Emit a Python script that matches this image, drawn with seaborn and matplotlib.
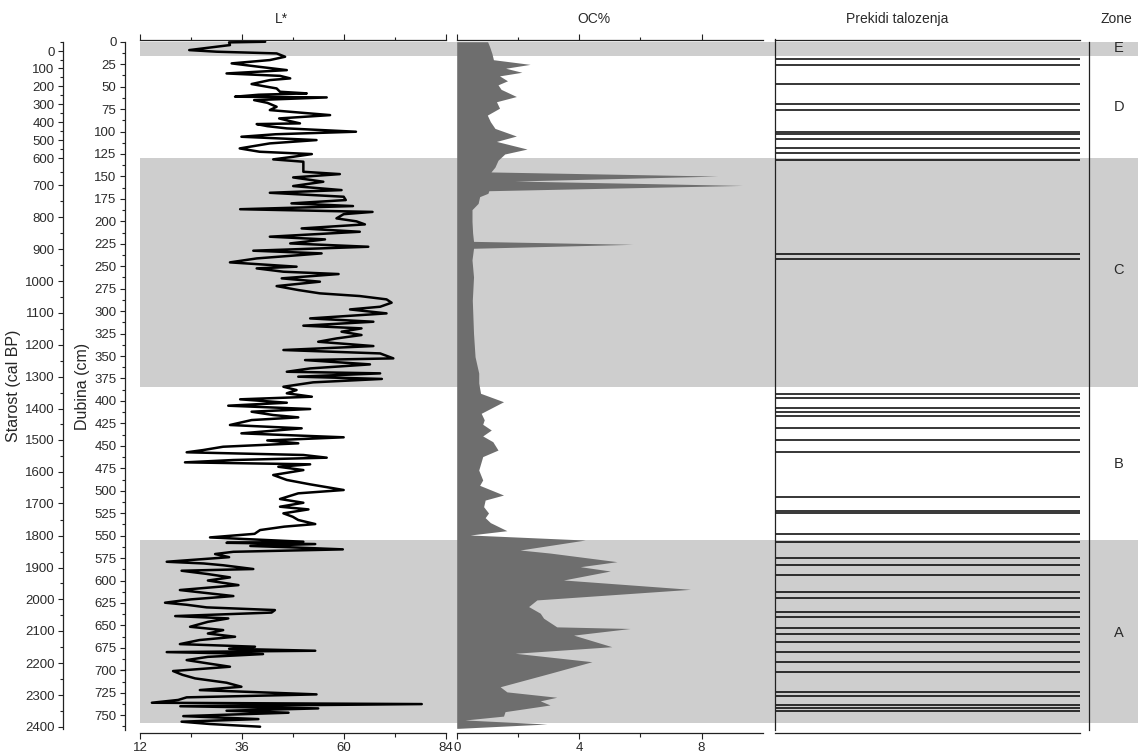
import numpy as np
import seaborn as sns
import matplotlib.pyplot as plt
from matplotlib.ticker import FixedLocator, NullFormatter

# ---- data -----------------------------------------------------------------
# L* colour record (depth in cm, value)
lstar_depth = [0, 0.7, 3.7, 9.3, 11.1, 13, 16.7, 20.4, 24.1, 27.8, 31.6, 35.3, 38, 40.8, 42.7,
               47.1, 52, 55.7, 57.5, 59, 61.2, 62, 65, 68, 72.4, 76.1, 81.7, 85.4, 88, 90.9,
               91.7, 94, 96.5, 100.2, 103, 105.8, 109.5, 113.2, 118.8, 122.5, 125.1, 128.1,
               131, 133.6, 144.8, 147.4, 151.1, 155.9, 160.7, 165.2, 168.2, 172.6, 176.3, 180,
               183, 186.5, 189.5, 192, 196.7, 200, 203.4, 207.9, 211.6, 217.1, 220.1, 224.6,
               228.3, 232.7, 235.7, 241.3, 245.7, 250.5, 252.4, 256.1, 258.7, 263.5, 267.2,
               272.1, 276.5, 280.2, 283.2, 286.9, 290.6, 295.1, 298.1, 302.5, 308.1, 311.8,
               316.2, 319.2, 322.9, 326.6, 330.4, 334.1, 338.9, 343.3, 347.1, 352.6, 354.5,
               359.3, 363.8, 367.5, 369.3, 373.0, 375.5, 379.3, 384.2, 387.9, 391.5, 395.3,
               398.2, 402, 405.3, 409, 412, 415.7, 418.3, 421.3, 426.8, 430.5, 436.1, 440.5,
               444, 447.2, 451, 454.7, 457.2, 460.2, 463.2, 465.8, 468.4, 470.6, 473.3, 477,
               482.5, 488, 492.9, 499.2, 502.9, 509.2, 513.4, 517.8, 520.8, 525.2, 529, 532.6,
               537.1, 540, 543.8, 548, 552, 554.5, 556.8, 558, 559.4, 561.5, 563, 565.3, 568,
               570.5, 574, 579.1, 581, 583, 587.2, 589.1, 592.8, 596.5, 600, 605.1, 610.6,
               617.3, 621, 624.7, 627, 629.9, 632.9, 635.7, 639.6, 642.2, 646, 651.5, 655.2,
               659, 662.6, 666.3, 670.8, 673.7, 676, 678.2, 679.7, 681.9, 685, 688.6, 692.3,
               696, 700.8, 705, 709, 713.8, 718.3, 722, 726.8, 730.1, 733, 736.1, 737.6, 740,
               742.4, 745, 747.2, 751, 754.3, 757.2, 759.8, 762.8]
lstar_value = [41.5, 33, 33.2, 23.6, 30.1, 44.2, 46.2, 42.6, 33.6, 39.9, 46.6, 32.4, 45, 47.4, 42.6,
               38.3, 44.2, 45, 51.3, 40, 34.4, 56, 38.9, 42, 44.2, 42.6, 56.8, 44.8, 47, 49.7,
               39.5, 42, 46.6, 62.9, 44, 35.9, 53.6, 42.6, 35.5, 40.2, 52.5, 48.1,
               43.4, 50.5, 50.5, 59.1, 48.1, 55.2, 48.1, 59.5, 42.6, 60, 60.5, 47.7,
               62.2, 35.6, 66.8, 60, 58.3, 63, 65.0, 50.1, 63.8, 42.6, 55.6, 47.4,
               65.8, 38.7, 54.8, 39.5, 33.2, 48.9, 39.5, 45.8, 58.8, 45.4, 54.4,
               44.2, 49.3, 54.4, 63.8, 70.1, 71.3, 68.6, 61.5, 70.1, 52.1, 67.0,
               50.5, 64.2, 59.5, 64.2, 58.3, 54.0, 67.0, 45.8, 68.6, 71.7, 50.9,
               66.2, 52.1, 46.6, 68.6, 49.3, 69.0, 52.8, 45.8, 48.9, 46.6, 52.5,
               35.6, 46.6, 32.8, 52.1, 38.3, 43.4, 49.3, 38.3, 33.2, 50.1, 35.9, 60.0,
               42, 49.3, 31.6, 26.9, 23.0, 50.5, 56, 34, 22.6, 52.1, 44.6, 50.5,
               43.4, 46.6, 52.1, 60.0, 49.3, 45.0, 50.5, 45.0, 51.7, 45.8, 48, 49.3,
               53.3, 46, 40.3, 39, 28.5, 40, 50.5, 32.4, 53.3, 38, 47.4, 59.8, 34.0,
               29.7, 33, 18.3, 27, 31.6, 38.7, 21.8, 28, 33.2, 28, 35.2, 21.4,
               34.0, 24, 17.9, 23, 27.7, 43.8, 43.0, 20.3, 32.8, 28, 23.8, 31.6,
               28, 34.4, 26, 21.4, 39.1, 33, 53.3, 18.3, 41.0, 28, 23.0, 28,
               33.2, 19.8, 22, 25.0, 32.4, 35.9, 26.1, 53.6, 23.0, 21, 14.8, 78.4, 21.5,
               54.0, 32.4, 47.0, 22.2, 39.9, 21.8, 28.5, 40.3]

# organic carbon (depth in cm, %)
oc_depth = [0, 5, 13, 20, 25.2, 29.5, 34, 38, 43.5, 48, 53, 61, 66.8, 74, 81.7, 89, 96.5, 105,
            111, 119.5, 125, 132, 139.6, 145, 149.6, 155.1, 160, 165.9, 168.8, 172.5, 180, 187,
            200, 213, 222.3, 225.6, 230, 243, 262, 288, 325, 350.8, 369, 380, 391.5, 400.9,
            413.8, 421, 426, 432.4, 439, 445.4, 454.7, 462, 477, 488, 494, 504.8, 510.4, 517.8,
            524.8, 530, 535.5, 544.5, 549.3, 554.9, 566, 569.4, 579, 584.6, 589.4, 599.4, 609.8,
            621.6, 629, 636.4, 642, 651.6, 653.4, 660.8, 673.7, 681, 690.4, 703.3, 718.3, 724,
            730, 734, 738.6, 746, 751, 755.3, 759.8, 764.6]
oc_value = [1.01, 1.07, 1.15, 1.2, 2.4, 1.6, 2.13, 1.4, 1.66, 1.35, 1.45, 1.95, 1.3, 1.4, 1.0, 1.1,
            1.25, 1.95, 1.3, 2.3, 1.57, 1.35, 1.25, 1.12, 8.53, 1.9, 9.34, 1.05, 1.02, 0.75, 0.7,
            0.5, 0.5, 0.52, 0.55, 5.76, 0.55, 0.5, 0.55, 0.51, 0.55, 0.6, 0.72, 0.72, 0.78, 1.53,
            0.8, 0.9, 0.85, 1.13, 0.85, 1.18, 1.35, 0.85, 0.72, 0.85, 0.75, 1.53, 0.93, 0.88,
            1.04, 0.93, 1.1, 1.64, 0.44, 4.2, 2.07, 3.05, 5.24, 4.04, 5.02, 3.49, 7.64,
            2.62, 2.35, 2.73, 2.84, 3.27, 5.67, 3.82, 5.07, 1.91, 4.42, 3.05, 1.42, 1.64,
            3.27, 2.73, 3.05, 1.58, 1.53, 0.27, 2.95, 0.06]

# sedimentation breaks (depth in cm)
break_depths = [19.6, 25.6, 46.8, 69.7, 76.1, 100.2, 102.8, 108.7, 118, 124, 132.1, 236.8, 242,
                392.6, 396.8, 407.6, 412, 416.5, 429.8, 443, 456.6, 507.3, 522.3, 525.2, 547.7,
                556.8, 575, 583.1, 593.3, 612.5, 619.6, 635.4, 640.1, 652.9, 659, 669, 679.3,
                690.4, 702.2, 724.2, 728.3, 738.6, 742, 745.3]

# zones
zone_names = ['E', 'D', 'C', 'B', 'A']
zone_label_depth = [7.5, 73, 254, 470, 658]
shaded_top = [0, 129.8, 555]
shaded_bottom = [16, 385, 758.5]

# age-depth ticks (cal BP -> depth cm)
age_ticks = [0, 100, 200, 300, 400, 500, 600, 700, 800, 900, 1000, 1100, 1200,
             1300, 1400, 1500, 1600, 1700, 1800, 1900, 2000, 2100, 2200, 2300, 2400]
age_tick_depth = [10.4, 29.6, 49.3, 69.7, 89.4, 109.8, 129.5, 159.9, 195.5, 231.2, 266.5,
                  301.8, 337.7, 373, 408.7, 443.5, 478.8, 514, 550.4, 585.7, 620.9, 656.2,
                  692.2, 727.5, 763.1]

# ---- figure ---------------------------------------------------------------
sns.set_style('white')
plt.rcParams['font.family'] = ['Liberation Sans', 'DejaVu Sans']
plt.rcParams['text.color'] = '#2a2a2a'
plt.rcParams['xtick.color'] = '#2a2a2a'
plt.rcParams['ytick.color'] = '#2a2a2a'

W, H = 1138, 754
fig = plt.figure(figsize=(W / 100, H / 100), dpi=100)
PT = 0.72  # points per pixel at 100 dpi

y_top, y_bot = 39.5, 733
ylim = (769.8, -2.5)
band_col = '#cecece'
line_col = '#222222'
title_y = 1.019


def px_axes(x0, x1):
    return fig.add_axes([x0 / W, (H - y_bot) / H, (x1 - x0) / W, (y_bot - y_top) / H])


# background shading across all columns
ax_bg = px_axes(140, W)
ax_bg.set_ylim(ylim)
for t, b in zip(shaded_top, shaded_bottom):
    ax_bg.axhspan(t, b, color=band_col, lw=0)
ax_bg.axis('off')
ax_bg.set_zorder(0)


def style_axes(ax):
    ax.set_zorder(2)
    ax.patch.set_visible(False)
    ax.set_ylim(ylim)
    for s in ax.spines.values():
        s.set_color(line_col)
        s.set_linewidth(0.9)
    ax.tick_params(which='both', direction='out', width=0.8, labelsize=9.5, color=line_col,
                   pad=2.5)
    ax.tick_params(which='major', length=5 * PT)
    ax.tick_params(which='minor', length=3.5 * PT)


# --- L* panel
ax_l = px_axes(140, 445.5)
style_axes(ax_l)
sns.lineplot(x=lstar_value, y=lstar_depth, orient='y', sort=False, estimator=None,
             color='black', lw=1.8, ax=ax_l)
ax_l.set_ylim(ylim)
ax_l.set_xlim(12, 84)
ax_l.xaxis.set_major_locator(FixedLocator([12, 36, 60, 84]))
ax_l.xaxis.set_minor_locator(FixedLocator([24, 48, 72]))
ax_l.tick_params(axis='x', which='both', top=True, bottom=True, labeltop=False)
ax_l.tick_params(axis='x', which='major', length=6 * PT)
ax_l.spines['right'].set_visible(False)
ax_l.spines['left'].set_position(('outward', 15 * PT))
ax_l.spines['left'].set_bounds(0, 766)
ax_l.yaxis.set_major_locator(FixedLocator(np.arange(0, 751, 25)))
ax_l.yaxis.set_minor_locator(FixedLocator(np.arange(12.5, 766, 25)))
ax_l.tick_params(axis='y', which='both', left=True)
ax_l.set_ylabel('Dubina (cm)', fontsize=11.5, labelpad=3)
ax_l.text(0.4615, title_y, 'L*', transform=ax_l.transAxes, ha='center', va='bottom',
          fontsize=10)

# --- age axis
ax_age = px_axes(140, 445.5)
style_axes(ax_age)
for k in ['top', 'right', 'bottom']:
    ax_age.spines[k].set_visible(False)
ax_age.spines['left'].set_position(('outward', 77 * PT))
ax_age.spines['left'].set_bounds(0.8, 765)
ax_age.set_xticks([])
ax_age.set_yticks(age_tick_depth)
ax_age.set_yticklabels([str(a) for a in age_ticks])
d = np.array(age_tick_depth)
minor = np.concatenate([[d[0] - (d[1] - d[0]) / 2], (d[:-1] + d[1:]) / 2])
ax_age.yaxis.set_minor_locator(FixedLocator(minor))
ax_age.yaxis.set_minor_formatter(NullFormatter())
ax_age.tick_params(axis='y', which='both', left=True)
ax_age.set_ylabel('Starost (cal BP)', fontsize=11.5, labelpad=3)

# --- OC% panel
ax_oc = px_axes(456.7, 762.7)
style_axes(ax_oc)
ax_oc.fill_betweenx(oc_depth, 0, oc_value, color='#6e6e6e', lw=0)
ax_oc.set_xlim(0, 10)
ax_oc.xaxis.set_major_locator(FixedLocator([0, 4, 8]))
ax_oc.xaxis.set_minor_locator(FixedLocator([2, 6]))
ax_oc.tick_params(axis='x', which='both', top=True, bottom=True, labeltop=False)
ax_oc.tick_params(axis='x', which='major', length=6 * PT)
ax_oc.set_yticks([])
for k in ['left', 'right']:
    ax_oc.spines[k].set_visible(False)
ax_oc.text(0.449, title_y, 'OC%', transform=ax_oc.transAxes, ha='center', va='bottom',
           fontsize=10)

# --- sedimentation breaks
ax_pt = px_axes(775, 1080)
style_axes(ax_pt)
ax_pt.hlines(break_depths, 0, 1, color='black', lw=1.1)
ax_pt.set_xlim(0, 1)
ax_pt.set_xticks([])
ax_pt.set_yticks([])
ax_pt.spines['right'].set_visible(False)
ax_pt.spines['left'].set_bounds(-2.5, 766)
ax_pt.text(0.40, title_y, 'Prekidi talozenja', transform=ax_pt.transAxes, ha='center',
           va='bottom', fontsize=10)

# --- zone column
ax_z = px_axes(1089, W)
style_axes(ax_z)
ax_z.set_xlim(0, 1)
ax_z.set_xticks([])
ax_z.set_yticks([])
for k in ['top', 'right', 'bottom']:
    ax_z.spines[k].set_visible(False)
ax_z.spines['left'].set_bounds(0, 766)
for name, dep in zip(zone_names, zone_label_depth):
    ax_z.text(0.61, dep, name, transform=ax_z.get_yaxis_transform(), ha='center',
              va='center', fontsize=10.5)
ax_z.text(0.55, title_y, 'Zone', transform=ax_z.transAxes, ha='center', va='bottom',
          fontsize=10)

fig.savefig('out.png', dpi=100)
